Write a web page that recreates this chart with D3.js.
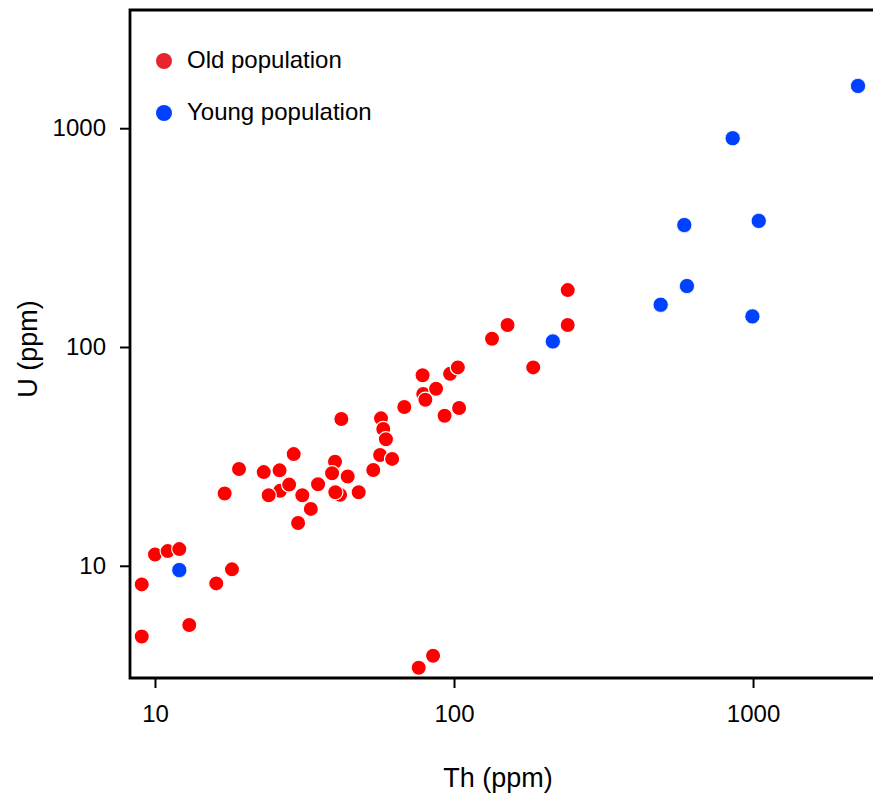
<!DOCTYPE html>
<html>
<head>
<meta charset="utf-8">
<script src="https://cdn.jsdelivr.net/npm/d3@7"></script>
<style>
  html, body { margin: 0; padding: 0; background: #fff; }
  svg { display: block; font-family: "Liberation Sans", Arial, sans-serif; }
</style>
</head>
<body>
<svg id="chart" width="873" height="800"></svg>
<script>
// Th and U concentrations (ppm) for the two zircon populations
const oldTh = [40.0, 41.6, 26.2, 78.9, 57.0, 97, 10, 11.03, 12.06, 9.03, 9.03, 13.02, 16.03, 18.09,
  17.1, 19.1, 23.1, 24.0, 26.1, 28.1, 29.1, 31.1, 33.2, 30.1, 35.1, 39.1, 44.1, 40.1,
  48.0, 42.0, 53.7, 56.6, 62.1, 58.0, 59.2, 68.2, 78.5, 87.1, 80.2, 103, 104, 93,
  134, 151, 184, 240, 240, 76.2, 85.1];
const oldU = [29.9, 21.1, 22.0, 61, 47.2, 75.4, 11.27, 11.67, 11.92, 8.22, 4.75, 5.36, 8.31, 9.63,
  21.4, 27.7, 26.8, 21.0, 27.3, 23.5, 32.4, 21.0, 18.2, 15.7, 23.6, 26.5, 25.6, 21.7,
  21.7, 46.9, 27.4, 32.1, 30.8, 42.2, 37.9, 53.2, 74.3, 64.4, 57.4, 80.7, 52.6, 48.5,
  109, 126, 80.7, 182, 126, 3.42, 3.88];

const youngTh = [2244, 855, 589, 1045, 601, 491, 995, 214, 12.06];
const youngU = [1560, 900, 361, 377, 190, 156, 138, 106, 9.56];

const seriesNames = ["Old population", "Young population"];
const seriesColors = ["#ff0000", "#0040ff"];
const legendColors = ["#e8242d", "#0040ff"];

const xTicks = [10, 100, 1000];
const yTicks = [10, 100, 1000];
const xDomain = [8.25, 2658];
const yDomain = [3.07, 3470];
const xTitle = "Th (ppm)";
const yTitle = "U (ppm)";

const svg = d3.select("#chart");
const plot = { left: 130, right: 880, top: 10, bottom: 678 };

const x = d3.scaleLog().domain(xDomain).range([plot.left, plot.right]);
const y = d3.scaleLog().domain(yDomain).range([plot.bottom, plot.top]);

// frame (right side runs past the page edge)
svg.append("path")
  .attr("d", `M${plot.right},${plot.top}H${plot.left}V${plot.bottom}H${plot.right}`)
  .attr("fill", "none")
  .attr("stroke", "#000")
  .attr("stroke-width", 2.8);

const xAxis = svg.append("g")
  .attr("transform", `translate(0,${plot.bottom})`)
  .call(d3.axisBottom(x).tickValues(xTicks).tickFormat(d3.format("d"))
    .tickSizeOuter(0).tickSizeInner(10).tickPadding(17));

const yAxis = svg.append("g")
  .attr("transform", `translate(${plot.left},0)`)
  .call(d3.axisLeft(y).tickValues(yTicks).tickFormat(d3.format("d"))
    .tickSizeOuter(0).tickSizeInner(10).tickPadding(14));

[xAxis, yAxis].forEach(g => {
  g.select(".domain").remove();
  g.selectAll(".tick line").attr("stroke", "#000").attr("stroke-width", 2);
  g.selectAll(".tick text")
    .attr("fill", "#000")
    .style("font-size", "24px")
    .style("font-family", "'Liberation Sans', Arial, sans-serif");
});

// points
const oldData = oldTh.map((t, i) => ({ th: t, u: oldU[i] }));
const youngData = youngTh.map((t, i) => ({ th: t, u: youngU[i] }));

svg.append("g").selectAll("circle")
  .data(oldData)
  .join("circle")
  .attr("cx", d => x(d.th))
  .attr("cy", d => y(d.u))
  .attr("r", 7.6)
  .attr("fill", seriesColors[0])
  .attr("stroke", "#fff")
  .attr("stroke-width", 1.2);

svg.append("g").selectAll("circle")
  .data(youngData)
  .join("circle")
  .attr("cx", d => x(d.th))
  .attr("cy", d => y(d.u))
  .attr("r", 7.6)
  .attr("fill", seriesColors[1])
  .attr("stroke", "#fff")
  .attr("stroke-width", 0.8);

// axis titles
svg.append("text")
  .attr("x", 498)
  .attr("y", 787)
  .attr("text-anchor", "middle")
  .style("font-size", "27px")
  .text(xTitle);

svg.append("text")
  .attr("transform", "translate(37,349) rotate(-90)")
  .attr("text-anchor", "middle")
  .style("font-size", "27px")
  .text(yTitle);

// legend
const legend = svg.append("g");
seriesNames.forEach((name, i) => {
  const row = legend.append("g").attr("transform", `translate(164,${61 + i * 52})`);
  row.append("circle").attr("r", 8).attr("fill", legendColors[i]);
  row.append("text")
    .attr("x", 23)
    .attr("y", 7)
    .style("font-size", "24px")
    .attr("fill", "#000")
    .text(name);
});
</script>
</body>
</html>
